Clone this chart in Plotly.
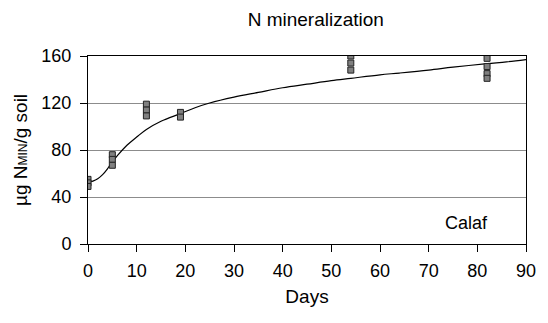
import plotly.graph_objects as go

# Measured data (days, µg N_MIN / g soil)
obs_days = [0, 0, 0, 5, 5, 5, 12, 12, 12, 19, 19, 54, 54, 54, 82, 82, 82, 82]
obs_vals = [55, 52, 49, 76, 72, 67, 119, 114, 109, 112, 108, 160, 154, 148, 158, 151, 145, 141]

# Fitted curve
fit_days = [0, 1, 2, 3, 4, 5, 6, 8, 10, 12, 15, 19, 22, 25, 30, 35, 40, 45, 50, 54, 60, 64, 70, 75, 82, 86, 90]
fit_vals = [52.5, 53.5, 55.5, 59, 64, 70, 75, 84, 91, 97.5, 104.5, 111, 116, 120, 125, 129, 133, 136, 139, 141,
            144, 145.5, 148, 150.5, 153.5, 155, 157]

x_ticks = [0, 10, 20, 30, 40, 50, 60, 70, 80, 90]
y_ticks = [0, 40, 80, 120, 160]

FONT = "Liberation Sans, Arial, sans-serif"
FS = 18

fig = go.Figure()
fig.add_trace(go.Scatter(x=fit_days, y=fit_vals, mode="lines",
                         line=dict(color="black", width=1.2, shape="spline"),
                         showlegend=False, hoverinfo="skip"))
fig.add_trace(go.Scatter(x=obs_days, y=obs_vals, mode="markers",
                         marker=dict(symbol="square", size=6, color="#808080",
                                     line=dict(color="#222222", width=1)),
                         showlegend=False))

fig.update_layout(
    width=540, height=315,
    margin=dict(l=79, r=21, t=48, b=78.5),
    paper_bgcolor="white", plot_bgcolor="white",
    font=dict(family=FONT, size=FS, color="black"),
    title=dict(text="N mineralization", x=0.57, xanchor="center", y=0.965, yanchor="middle",
               font=dict(family=FONT, size=19, color="black")),
    annotations=[dict(text="Calaf", x=0.864, y=0.114, xref="paper", yref="paper",
                      xanchor="center", yanchor="middle",
                      showarrow=False, font=dict(family=FONT, size=FS, color="black"))],
)
fig.update_xaxes(range=[0, 90], tickvals=x_ticks, ticks="outside", ticklen=7, tickcolor="black",
                 showline=True, linecolor="black", linewidth=1, mirror=True,
                 showgrid=False, zeroline=False, ticklabelstandoff=3,
                 tickfont=dict(family=FONT, size=FS, color="black"),
                 title=dict(text="Days", font=dict(family=FONT, size=19, color="black"), standoff=10))
fig.update_yaxes(range=[0, 160], tickvals=y_ticks, ticks="outside", ticklen=7, tickcolor="black",
                 showline=True, linecolor="black", linewidth=1, mirror=True,
                 showgrid=True, gridcolor="#8c8c8c", gridwidth=1, zeroline=False,
                 ticklabelstandoff=5,
                 tickfont=dict(family=FONT, size=FS, color="black"),
                 title=dict(text="µg N<span style='font-size:12px'>MIN</span>/g soil",
                            font=dict(family=FONT, size=19, color="black"), standoff=8))

fig.write_html("out.html")
